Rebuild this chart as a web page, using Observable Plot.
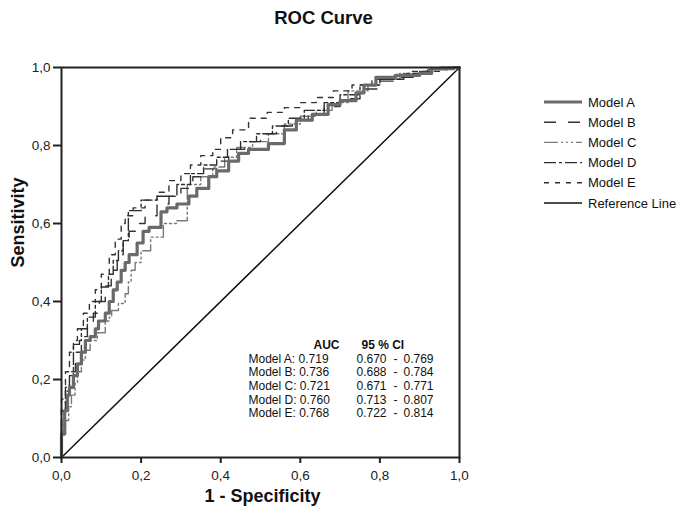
<!DOCTYPE html>
<html>
<head>
<meta charset="utf-8">
<script src="https://cdn.jsdelivr.net/npm/d3@7"></script>
<script src="https://cdn.jsdelivr.net/npm/@observablehq/plot@0.6"></script>
<style>
  html, body { margin: 0; padding: 0; background: #fff; }
  #chart svg { font-family: "Liberation Sans", Arial, sans-serif; }
</style>
</head>
<body>
<div id="chart"></div>
<script>
// ---- Data ----
const modelNames = ["Model A", "Model B", "Model C", "Model D", "Model E"];

const modelA_fpr = [0,0,0.008,0.008,0.015,0.02,0.03,0.04,0.05,0.06,0.072,0.085,0.093,0.11,0.12,0.13,0.14,0.15,0.16,0.17,0.19,0.205,0.22,0.25,0.265,0.29,0.32,0.34,0.37,0.39,0.42,0.445,0.47,0.52,0.56,0.59,0.63,0.67,0.70,0.74,0.76,0.79,0.84,0.90,0.93,0.985,1];
const modelA_tpr = [0,0.05,0.06,0.10,0.12,0.16,0.18,0.21,0.24,0.27,0.30,0.31,0.33,0.35,0.37,0.40,0.43,0.45,0.48,0.50,0.52,0.55,0.58,0.59,0.63,0.64,0.65,0.67,0.69,0.72,0.735,0.76,0.78,0.79,0.805,0.84,0.865,0.88,0.905,0.915,0.935,0.955,0.975,0.98,0.985,0.997,1];

const modelB_fpr = [0,0,0.01,0.02,0.035,0.05,0.065,0.08,0.095,0.11,0.125,0.14,0.155,0.17,0.19,0.21,0.24,0.27,0.30,0.33,0.36,0.39,0.42,0.46,0.50,0.54,0.58,0.62,0.66,0.70,0.75,0.80,0.85,0.90,0.95,1];
const modelB_tpr = [0,0.06,0.12,0.17,0.22,0.27,0.31,0.34,0.37,0.40,0.44,0.48,0.52,0.55,0.58,0.60,0.62,0.65,0.67,0.69,0.72,0.74,0.76,0.79,0.81,0.83,0.85,0.865,0.88,0.90,0.92,0.945,0.965,0.975,0.99,1];

const modelC_fpr = [0,0,0.01,0.018,0.025,0.034,0.04,0.05,0.06,0.072,0.09,0.11,0.12,0.126,0.143,0.16,0.168,0.175,0.185,0.20,0.224,0.256,0.29,0.316,0.316,0.35,0.38,0.41,0.44,0.48,0.52,0.56,0.60,0.64,0.68,0.72,0.77,0.80,0.85,0.92,0.97,1];
const modelC_tpr = [0,0.03,0.06,0.095,0.13,0.16,0.19,0.22,0.25,0.275,0.30,0.32,0.35,0.36,0.377,0.395,0.42,0.45,0.48,0.50,0.53,0.565,0.60,0.607,0.685,0.70,0.72,0.745,0.77,0.795,0.81,0.83,0.855,0.875,0.89,0.91,0.94,0.955,0.97,0.985,0.995,1];

const modelD_fpr = [0,0,0.01,0.02,0.03,0.03,0.045,0.05,0.065,0.085,0.10,0.118,0.13,0.143,0.155,0.168,0.168,0.20,0.24,0.29,0.324,0.357,0.39,0.417,0.45,0.49,0.53,0.57,0.61,0.66,0.70,0.75,0.80,0.86,0.92,0.97,1];
const modelD_tpr = [0,0.08,0.12,0.18,0.21,0.27,0.29,0.30,0.33,0.36,0.40,0.437,0.47,0.505,0.53,0.556,0.615,0.633,0.66,0.67,0.70,0.728,0.75,0.77,0.79,0.81,0.83,0.85,0.87,0.89,0.91,0.93,0.955,0.97,0.985,0.995,1];

const modelE_fpr = [0,0,0.01,0.02,0.03,0.04,0.055,0.07,0.085,0.10,0.12,0.135,0.15,0.16,0.18,0.21,0.24,0.27,0.30,0.324,0.35,0.38,0.40,0.43,0.47,0.517,0.56,0.60,0.64,0.683,0.73,0.78,0.83,0.88,0.95,1];
const modelE_tpr = [0,0.10,0.15,0.22,0.27,0.30,0.33,0.37,0.40,0.43,0.47,0.52,0.56,0.60,0.62,0.64,0.66,0.68,0.71,0.728,0.75,0.774,0.79,0.82,0.84,0.87,0.885,0.897,0.91,0.923,0.94,0.955,0.97,0.98,0.99,1];

const aucValues = ["0.719", "0.736", "0.721", "0.760", "0.768"];
const ciLower  = ["0.670", "0.688", "0.671", "0.713", "0.722"];
const ciUpper  = ["0.769", "0.784", "0.771", "0.807", "0.814"];

const xTicks = [0, 0.2, 0.4, 0.6, 0.8, 1.0];
const yTicks = [0, 0.2, 0.4, 0.6, 0.8, 1.0];
const refLine = [[0, 0], [1, 1]];

// ---- Styles per model ----
const styles = {
  "Model A": {stroke: "#6a6a6a", strokeWidth: 3.2, dash: null},
  "Model B": {stroke: "#333", strokeWidth: 1.4, dash: "12,12"},
  "Model C": {stroke: "#7a7a7a", strokeWidth: 1.4, dash: "14,3,2,3,2,3,2,3"},
  "Model D": {stroke: "#2e2e2e", strokeWidth: 1.4, dash: "12,3,3,3"},
  "Model E": {stroke: "#333", strokeWidth: 1.4, dash: "5,6"}
};

const series = {
  "Model A": [modelA_fpr, modelA_tpr],
  "Model B": [modelB_fpr, modelB_tpr],
  "Model C": [modelC_fpr, modelC_tpr],
  "Model D": [modelD_fpr, modelD_tpr],
  "Model E": [modelE_fpr, modelE_tpr]
};
const rows = modelNames.flatMap(m => series[m][0].map((x, i) => ({model: m, x, y: series[m][1][i]})));

const fmt = d => d.toFixed(1).replace(".", ",");
const font = "'Liberation Sans', Arial, sans-serif";

const drawOrder = ["Model C", "Model B", "Model E", "Model D", "Model A"];

const lineMarks = drawOrder.map(m => Plot.line(rows.filter(r => r.model === m), {
  x: "x", y: "y", curve: "step-before",
  stroke: styles[m].stroke, strokeWidth: styles[m].strokeWidth,
  strokeDasharray: styles[m].dash || undefined
}));

// AUC table rows: one set of text marks per row (dy must be constant)
const tableMarks = modelNames.flatMap((m, i) => {
  const dy = -95 + i * 13.7;
  const base = {frameAnchor: "bottom-left", dy, fontSize: 12, fill: "#111"};
  return [
    Plot.text([`${m}: ${aucValues[i]}`], {...base, dx: 187, textAnchor: "start"}),
    Plot.text([ciLower[i]], {...base, dx: 295, textAnchor: "start"}),
    Plot.text(["-"], {...base, dx: 334, textAnchor: "middle"}),
    Plot.text([ciUpper[i]], {...base, dx: 342, textAnchor: "start"})
  ];
});

const plot = Plot.plot({
  width: 685,
  height: 517,
  marginLeft: 61,
  marginRight: 226,
  marginTop: 67,
  marginBottom: 60,
  style: {fontFamily: font, background: "#fff"},
  x: {domain: [0, 1]},
  y: {domain: [0, 1]},
  marks: [
    Plot.line(refLine, {x: d => d[0], y: d => d[1], stroke: "#111", strokeWidth: 1.5}),
    ...lineMarks,
    Plot.frame({stroke: "#222", strokeWidth: 2}),
    Plot.axisX({ticks: xTicks, tickFormat: fmt, tickSize: 6, tickPadding: 7, fontSize: 13.5, stroke: "#222", strokeWidth: 2, label: null, color: "#222"}),
    Plot.axisY({ticks: yTicks, tickFormat: fmt, tickSize: 8, tickPadding: 3, fontSize: 13.5, stroke: "#222", strokeWidth: 2, label: null, color: "#222"}),
    Plot.text(["ROC Curve"], {frameAnchor: "top", dx: 63, dy: -57, fontSize: 18.5, fontWeight: "bold", fill: "#111"}),
    Plot.text(["1 - Specificity"], {frameAnchor: "bottom", dx: 2, dy: 44, fontSize: 18, fontWeight: "bold", fill: "#111"}),
    Plot.text(["Sensitivity"], {frameAnchor: "left", dx: -43, dy: 5, rotate: -90, fontSize: 18, fontWeight: "bold", fill: "#111"}),
    Plot.text(["AUC"], {frameAnchor: "bottom-left", dx: 252, dy: -109, fontSize: 12, fontWeight: "bold", fill: "#111"}),
    Plot.text(["95 % CI"], {frameAnchor: "bottom-left", dx: 300, dy: -109, fontSize: 12, fontWeight: "bold", fill: "#111"}),
    ...tableMarks
  ]
});

document.getElementById("chart").appendChild(plot);

// ---- Legend (appended into the same SVG) ----
const svg = d3.select(plot);
const legendItems = [...modelNames.map(m => ({label: m, ...styles[m]})), {label: "Reference Line", stroke: "#111", strokeWidth: 1.5, dash: null}];
const lg = svg.append("g").attr("transform", "translate(544,102)");
legendItems.forEach((it, i) => {
  const g = lg.append("g").attr("transform", `translate(0,${i * 20.2})`);
  g.append("line").attr("x1", 0).attr("x2", 38).attr("y1", 0).attr("y2", 0)
    .attr("stroke", it.stroke).attr("stroke-width", it.strokeWidth)
    .attr("stroke-dasharray", it.dash || null);
  g.append("text").attr("x", 44).attr("y", 0).attr("dy", "0.35em")
    .attr("text-anchor", "start")
    .attr("font-size", 13).attr("fill", "#111").attr("font-family", font).text(it.label);
});
</script>
</body>
</html>
